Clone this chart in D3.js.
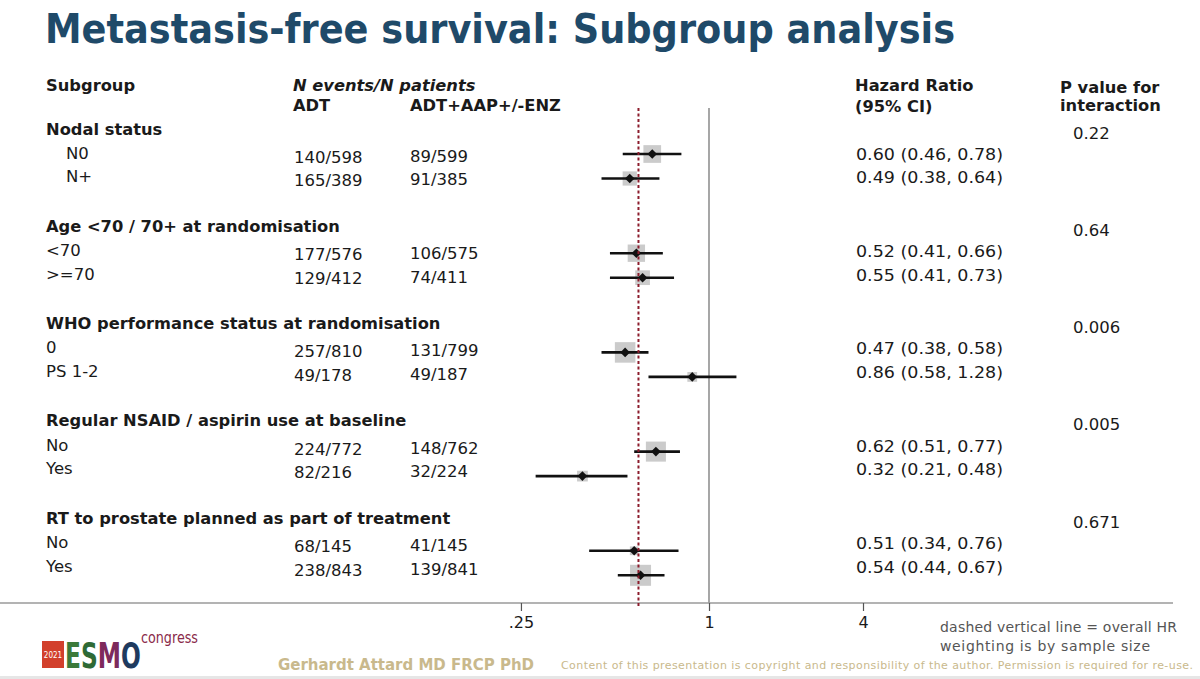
<!DOCTYPE html>
<html>
<head>
<meta charset="utf-8">
<script src="https://cdn.jsdelivr.net/npm/d3@7"></script>
<style>
  body { margin: 0; background: #fff; }
  svg { display: block; }
</style>
</head>
<body>
<div id="chart"></div>
<script>
{
  const GROUPS = [
    "Nodal status",
    "Age <70 / 70+ at randomisation",
    "WHO performance status at randomisation",
    "Regular NSAID / aspirin use at baseline",
    "RT to prostate planned as part of treatment"
  ];
  const P_INTERACTION = ["0.22", "0.64", "0.006", "0.005", "0.671"];
  const SUBGROUPS = [["N0", "N+"], ["<70", ">=70"], ["0", "PS 1-2"], ["No", "Yes"], ["No", "Yes"]];

  const ADT_EVENTS = [[140, 165], [177, 129], [257, 49], [224, 82], [68, 238]];
  const ADT_PATIENTS = [[598, 389], [576, 412], [810, 178], [772, 216], [145, 843]];
  const COMB_EVENTS = [[89, 91], [106, 74], [131, 49], [148, 32], [41, 139]];
  const COMB_PATIENTS = [[599, 385], [575, 411], [799, 187], [762, 224], [145, 841]];

  const HR = [[0.60, 0.49], [0.52, 0.55], [0.47, 0.86], [0.62, 0.32], [0.51, 0.54]];
  const HR_LO = [[0.46, 0.38], [0.41, 0.41], [0.38, 0.58], [0.51, 0.21], [0.34, 0.44]];
  const HR_HI = [[0.78, 0.64], [0.66, 0.73], [0.58, 1.28], [0.77, 0.48], [0.76, 0.67]];

  const OVERALL_HR = 0.53;
  const TICK_VALUES = [0.184, 1, 4];
  const TICK_LABELS = [".25", "1", "4"];

  const width = 1200;
  const height = 679;
  const FONT = "'DejaVu Sans', Verdana, sans-serif";
  const COND = "'DejaVu Sans Condensed', 'DejaVu Sans', sans-serif";
  const TEXT = "#1a1a1a";

  const svg = d3.select("#chart").append("svg")
    .attr("width", width)
    .attr("height", height)
    .style("font-family", FONT);

  // flatten rows
  const rows = [];
  GROUPS.forEach((g, gi) => {
    SUBGROUPS[gi].forEach((s, i) => {
      rows.push({
        g: gi, i: i, label: s,
        adt: ADT_EVENTS[gi][i] + "/" + ADT_PATIENTS[gi][i],
        comb: COMB_EVENTS[gi][i] + "/" + COMB_PATIENTS[gi][i],
        n: ADT_PATIENTS[gi][i] + COMB_PATIENTS[gi][i],
        hr: HR[gi][i], lo: HR_LO[gi][i], hi: HR_HI[gi][i]
      });
    });
  });

  const x = d3.scaleLog().domain([0.25, 4]).range([555, 863]);
  const markY = (g, i) => 154 + g * 99.2 + i * 24.5;
  const textY = (g, i) => 155 + g * 97.4 + i * 23.6;
  const headY = g => 129 + g * 97.3;
  const boxSize = d3.scaleSqrt().domain([0, d3.max(rows, d => d.n)]).range([0, 21]);

  // title
  svg.append("text")
    .attr("x", 45).attr("y", 43)
    .attr("textLength", 910).attr("lengthAdjust", "spacingAndGlyphs")
    .style("font-family", COND)
    .style("font-weight", "bold").style("font-size", "41px")
    .attr("fill", "#1f4a69")
    .text("Metastasis-free survival: Subgroup analysis");

  // column headers
  const head = svg.append("g").attr("fill", TEXT).style("font-weight", "bold").style("font-size", "16.3px")
    .attr("dominant-baseline", "central");
  head.append("text").attr("x", 46).attr("y", 85).text("Subgroup");
  head.append("text").attr("x", 293).attr("y", 85).style("font-style", "italic").text("N events/N patients");
  head.append("text").attr("x", 293).attr("y", 105).text("ADT");
  head.append("text").attr("x", 410).attr("y", 105).text("ADT+AAP+/-ENZ");
  head.append("text").attr("x", 855).attr("y", 85).text("Hazard Ratio");
  head.append("text").attr("x", 855).attr("y", 106).text("(95% CI)");
  head.append("text").attr("x", 1060).attr("y", 87).text("P value for");
  head.append("text").attr("x", 1060).attr("y", 105).text("interaction");

  // group headers + p values
  svg.append("g").selectAll("text.group")
    .data(GROUPS).enter().append("text")
    .attr("class", "group")
    .attr("x", 46).attr("y", (d, i) => headY(i))
    .attr("dominant-baseline", "central")
    .attr("fill", TEXT).style("font-weight", "bold").style("font-size", "16.3px")
    .text(d => d);

  svg.append("g").selectAll("text.pval")
    .data(P_INTERACTION).enter().append("text")
    .attr("class", "pval")
    .attr("x", 1073).attr("y", (d, i) => headY(i) + 4)
    .attr("dominant-baseline", "central")
    .attr("fill", TEXT).style("font-size", "16.5px")
    .text(d => d);

  // row texts
  const rowText = svg.append("g").attr("fill", TEXT).style("font-size", "16.5px");
  rowText.selectAll("text.lab").data(rows).enter().append("text")
    .attr("class", "lab")
    .attr("x", d => d.g === 0 ? 66 : 46)
    .attr("y", d => textY(d.g, d.i) - 2)
    .attr("dominant-baseline", "central")
    .text(d => d.label);
  rowText.selectAll("text.adt").data(rows).enter().append("text")
    .attr("class", "adt")
    .attr("x", 294).attr("y", d => textY(d.g, d.i) + 2)
    .attr("dominant-baseline", "central")
    .text(d => d.adt);
  rowText.selectAll("text.comb").data(rows).enter().append("text")
    .attr("class", "comb")
    .attr("x", 410).attr("y", d => textY(d.g, d.i) + 1)
    .attr("dominant-baseline", "central")
    .text(d => d.comb);
  rowText.selectAll("text.hr").data(rows).enter().append("text")
    .attr("class", "hr")
    .attr("x", 856).attr("y", d => textY(d.g, d.i) - 1)
    .attr("dominant-baseline", "central")
    .attr("textLength", 147).attr("lengthAdjust", "spacingAndGlyphs")
    .style("font-size", "16px")
    .text(d => `${d.hr.toFixed(2)} (${d.lo.toFixed(2)}, ${d.hi.toFixed(2)})`);

  // reference lines
  const axisY = 603;
  svg.append("line")
    .attr("x1", x(1)).attr("x2", x(1))
    .attr("y1", 108).attr("y2", axisY)
    .attr("stroke", "#777").attr("stroke-width", 1.3);

  svg.append("line")
    .attr("x1", 0).attr("x2", 1173)
    .attr("y1", axisY).attr("y2", axisY)
    .attr("stroke", "#9a9a9a").attr("stroke-width", 1.6);

  const axis = d3.axisBottom(x)
    .tickValues(TICK_VALUES)
    .tickFormat((d, i) => TICK_LABELS[i])
    .tickSize(8)
    .tickPadding(6);

  const gAxis = svg.append("g")
    .attr("transform", `translate(0,${axisY})`)
    .call(axis);
  gAxis.select(".domain").remove();
  gAxis.selectAll(".tick line").attr("stroke", "#555").attr("stroke-width", 1.2);
  gAxis.selectAll(".tick text")
    .attr("fill", TEXT)
    .style("font-family", FONT)
    .style("font-size", "16px");

  // markers
  const gMarks = svg.append("g");
  gMarks.selectAll("rect.box").data(rows).enter().append("rect")
    .attr("class", "box")
    .attr("x", d => x(d.hr) - boxSize(d.n) / 2)
    .attr("y", d => markY(d.g, d.i) - boxSize(d.n) / 2)
    .attr("width", d => boxSize(d.n))
    .attr("height", d => boxSize(d.n))
    .attr("fill", "#cbcbcb");

  gMarks.selectAll("line.ci").data(rows).enter().append("line")
    .attr("class", "ci")
    .attr("x1", d => x(d.lo)).attr("x2", d => x(d.hi))
    .attr("y1", d => markY(d.g, d.i)).attr("y2", d => markY(d.g, d.i))
    .attr("stroke", "#111").attr("stroke-width", 2.6);

  gMarks.selectAll("path.pt").data(rows).enter().append("path")
    .attr("class", "pt")
    .attr("transform", d => `translate(${x(d.hr)},${markY(d.g, d.i)})`)
    .attr("d", "M0,-4.8L4.8,0L0,4.8L-4.8,0Z")
    .attr("fill", "#111");

  // overall HR dashed line (on top)
  svg.append("line")
    .attr("x1", x(OVERALL_HR)).attr("x2", x(OVERALL_HR))
    .attr("y1", 108).attr("y2", 608)
    .attr("stroke", "#8c1c2c").attr("stroke-width", 2)
    .attr("stroke-dasharray", "3,2.5");

  // note
  const note = svg.append("g").attr("fill", "#555").style("font-size", "14px");
  note.append("text").attr("x", 940).attr("y", 632).attr("textLength", 237).text("dashed vertical line = overall HR");
  note.append("text").attr("x", 940).attr("y", 651).attr("textLength", 210).text("weighting is by sample size");

  // footer
  svg.append("text")
    .attr("x", 278).attr("y", 670)
    .attr("textLength", 256)
    .attr("fill", "#c9b98c")
    .style("font-weight", "bold").style("font-size", "15px")
    .text("Gerhardt Attard MD FRCP PhD");
  svg.append("text")
    .attr("x", 561).attr("y", 669)
    .attr("textLength", 632)
    .attr("fill", "#c9b98c")
    .style("font-size", "11px")
    .text("Content of this presentation is copyright and responsibility of the author. Permission is required for re-use.");

  // logo: narrowed by a horizontal scale, letters keep natural spacing
  const logo = svg.append("g");
  logo.append("rect").attr("x", 42).attr("y", 641).attr("width", 22).attr("height", 27).attr("fill", "#d2402c");
  logo.append("text").attr("x", 53).attr("y", 658).attr("text-anchor", "middle")
    .attr("fill", "#fff").style("font-size", "8px").style("font-family", COND)
    .text("2021");
  const letters = [["E", "#3b7a3a"], ["S", "#2e6a35"], ["M", "#7d2a5c"], ["O", "#1e3a5e"]];
  logo.append("g")
    .attr("transform", "translate(65,668) scale(0.72,1)")
    .append("text")
    .style("font-family", COND).style("font-weight", "bold").style("font-size", "36px")
    .selectAll("tspan").data(letters).enter().append("tspan")
    .attr("fill", d => d[1]).text(d => d[0]);
  logo.append("text").attr("x", 141).attr("y", 643)
    .attr("textLength", 57).attr("lengthAdjust", "spacingAndGlyphs")
    .attr("fill", "#8a2a4a")
    .style("font-family", COND).style("font-size", "15px")
    .text("congress");

  // player bar remnants at bottom
  svg.append("rect").attr("x", 0).attr("y", 676).attr("width", width).attr("height", 3).attr("fill", "#e6e6e6");
}
</script>
</body>
</html>
